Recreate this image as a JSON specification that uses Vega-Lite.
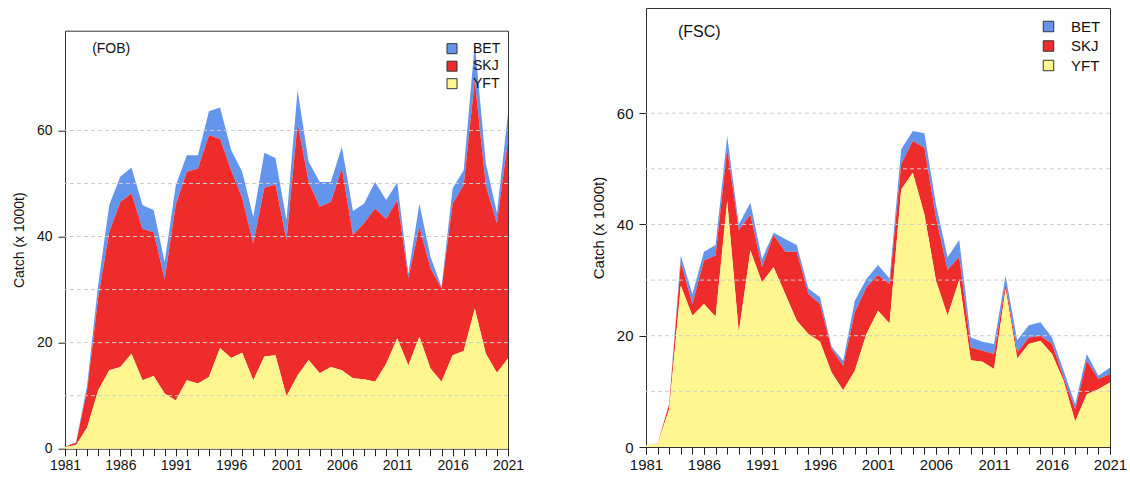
{
  "$schema": "https://vega.github.io/schema/vega-lite/v6.json",
  "padding": {"left": 11, "top": 7, "right": 2, "bottom": 2},
  "background": "white",
  "config": {
    "view": {"stroke": "#333333", "strokeWidth": 1},
    "font": "Liberation Sans",
    "axis": {"labelColor": "#111111", "titleColor": "#111111", "tickColor": "#222222", "domain": false, "grid": false, "labelFont": "Liberation Sans", "titleFont": "Liberation Sans", "titleFontWeight": "normal"},
    "legend": {"labelFont": "Liberation Sans", "labelColor": "#111111"}
  },
  "data": {"values": [
    {"set":"FOB","year":1981,"YFT":0.3,"SKJ":0.1,"BET":0.0},
    {"set":"FOB","year":1982,"YFT":0.7,"SKJ":0.4,"BET":0.1},
    {"set":"FOB","year":1983,"YFT":4.0,"SKJ":7.0,"BET":1.0},
    {"set":"FOB","year":1984,"YFT":11.0,"SKJ":17.5,"BET":2.5},
    {"set":"FOB","year":1985,"YFT":14.8,"SKJ":26.1,"BET":5.1},
    {"set":"FOB","year":1986,"YFT":15.4,"SKJ":31.1,"BET":4.8},
    {"set":"FOB","year":1987,"YFT":17.9,"SKJ":30.2,"BET":4.9},
    {"set":"FOB","year":1988,"YFT":12.9,"SKJ":28.5,"BET":4.5},
    {"set":"FOB","year":1989,"YFT":13.7,"SKJ":27.1,"BET":4.2},
    {"set":"FOB","year":1990,"YFT":10.4,"SKJ":21.5,"BET":3.3},
    {"set":"FOB","year":1991,"YFT":9.1,"SKJ":36.9,"BET":3.6},
    {"set":"FOB","year":1992,"YFT":12.9,"SKJ":39.3,"BET":3.1},
    {"set":"FOB","year":1993,"YFT":12.3,"SKJ":40.5,"BET":2.5},
    {"set":"FOB","year":1994,"YFT":13.5,"SKJ":45.6,"BET":4.5},
    {"set":"FOB","year":1995,"YFT":19.0,"SKJ":39.4,"BET":5.9},
    {"set":"FOB","year":1996,"YFT":17.1,"SKJ":35.4,"BET":3.8},
    {"set":"FOB","year":1997,"YFT":18.1,"SKJ":29.1,"BET":5.0},
    {"set":"FOB","year":1998,"YFT":12.9,"SKJ":25.8,"BET":5.0},
    {"set":"FOB","year":1999,"YFT":17.4,"SKJ":31.8,"BET":6.6},
    {"set":"FOB","year":2000,"YFT":17.6,"SKJ":32.2,"BET":5.0},
    {"set":"FOB","year":2001,"YFT":9.9,"SKJ":29.4,"BET":3.8},
    {"set":"FOB","year":2002,"YFT":13.8,"SKJ":47.5,"BET":6.3},
    {"set":"FOB","year":2003,"YFT":16.7,"SKJ":33.6,"BET":3.8},
    {"set":"FOB","year":2004,"YFT":14.2,"SKJ":31.4,"BET":4.7},
    {"set":"FOB","year":2005,"YFT":15.4,"SKJ":31.1,"BET":3.8},
    {"set":"FOB","year":2006,"YFT":14.8,"SKJ":38.0,"BET":4.1},
    {"set":"FOB","year":2007,"YFT":13.3,"SKJ":27.0,"BET":4.5},
    {"set":"FOB","year":2008,"YFT":13.1,"SKJ":29.4,"BET":3.7},
    {"set":"FOB","year":2009,"YFT":12.6,"SKJ":32.7,"BET":5.0},
    {"set":"FOB","year":2010,"YFT":16.0,"SKJ":27.3,"BET":3.6},
    {"set":"FOB","year":2011,"YFT":20.8,"SKJ":26.1,"BET":3.3},
    {"set":"FOB","year":2012,"YFT":15.7,"SKJ":16.5,"BET":0.8},
    {"set":"FOB","year":2013,"YFT":21.1,"SKJ":20.7,"BET":4.4},
    {"set":"FOB","year":2014,"YFT":15.1,"SKJ":18.9,"BET":2.2},
    {"set":"FOB","year":2015,"YFT":12.6,"SKJ":17.6,"BET":0.3},
    {"set":"FOB","year":2016,"YFT":17.6,"SKJ":28.6,"BET":2.9},
    {"set":"FOB","year":2017,"YFT":18.4,"SKJ":31.3,"BET":2.8},
    {"set":"FOB","year":2018,"YFT":26.4,"SKJ":43.1,"BET":7.0},
    {"set":"FOB","year":2019,"YFT":17.9,"SKJ":31.6,"BET":4.3},
    {"set":"FOB","year":2020,"YFT":14.3,"SKJ":28.2,"BET":2.0},
    {"set":"FOB","year":2021,"YFT":17.0,"SKJ":41.2,"BET":5.0},
    {"set":"FSC","year":1981,"YFT":0.3,"SKJ":0.0,"BET":0.0},
    {"set":"FSC","year":1982,"YFT":0.6,"SKJ":0.05,"BET":0.0},
    {"set":"FSC","year":1983,"YFT":6.8,"SKJ":0.9,"BET":0.1},
    {"set":"FSC","year":1984,"YFT":29.0,"SKJ":4.2,"BET":1.2},
    {"set":"FSC","year":1985,"YFT":23.6,"SKJ":2.1,"BET":1.8},
    {"set":"FSC","year":1986,"YFT":25.7,"SKJ":7.8,"BET":1.6},
    {"set":"FSC","year":1987,"YFT":23.4,"SKJ":11.0,"BET":1.9},
    {"set":"FSC","year":1988,"YFT":44.2,"SKJ":9.3,"BET":2.4},
    {"set":"FSC","year":1989,"YFT":20.6,"SKJ":18.4,"BET":1.0},
    {"set":"FSC","year":1990,"YFT":35.3,"SKJ":6.5,"BET":2.1},
    {"set":"FSC","year":1991,"YFT":29.6,"SKJ":2.7,"BET":1.5},
    {"set":"FSC","year":1992,"YFT":32.3,"SKJ":5.8,"BET":0.4},
    {"set":"FSC","year":1993,"YFT":27.5,"SKJ":7.6,"BET":2.3},
    {"set":"FSC","year":1994,"YFT":22.7,"SKJ":12.4,"BET":1.2},
    {"set":"FSC","year":1995,"YFT":20.3,"SKJ":7.2,"BET":1.0},
    {"set":"FSC","year":1996,"YFT":18.9,"SKJ":6.8,"BET":1.2},
    {"set":"FSC","year":1997,"YFT":13.4,"SKJ":4.2,"BET":0.4},
    {"set":"FSC","year":1998,"YFT":10.2,"SKJ":4.4,"BET":0.9},
    {"set":"FSC","year":1999,"YFT":13.7,"SKJ":10.5,"BET":2.1},
    {"set":"FSC","year":2000,"YFT":20.3,"SKJ":8.4,"BET":1.5},
    {"set":"FSC","year":2001,"YFT":24.5,"SKJ":6.4,"BET":1.8},
    {"set":"FSC","year":2002,"YFT":22.2,"SKJ":7.1,"BET":1.0},
    {"set":"FSC","year":2003,"YFT":46.3,"SKJ":4.5,"BET":2.7},
    {"set":"FSC","year":2004,"YFT":49.3,"SKJ":5.7,"BET":1.8},
    {"set":"FSC","year":2005,"YFT":41.8,"SKJ":12.0,"BET":2.6},
    {"set":"FSC","year":2006,"YFT":29.9,"SKJ":11.3,"BET":2.4},
    {"set":"FSC","year":2007,"YFT":23.6,"SKJ":8.2,"BET":2.3},
    {"set":"FSC","year":2008,"YFT":30.0,"SKJ":4.2,"BET":3.0},
    {"set":"FSC","year":2009,"YFT":15.6,"SKJ":2.3,"BET":1.8},
    {"set":"FSC","year":2010,"YFT":15.3,"SKJ":2.0,"BET":1.6},
    {"set":"FSC","year":2011,"YFT":14.0,"SKJ":2.7,"BET":1.8},
    {"set":"FSC","year":2012,"YFT":28.4,"SKJ":0.9,"BET":1.5},
    {"set":"FSC","year":2013,"YFT":15.9,"SKJ":1.1,"BET":2.2},
    {"set":"FSC","year":2014,"YFT":18.5,"SKJ":1.2,"BET":2.2},
    {"set":"FSC","year":2015,"YFT":19.1,"SKJ":0.9,"BET":2.4},
    {"set":"FSC","year":2016,"YFT":16.7,"SKJ":1.8,"BET":1.2},
    {"set":"FSC","year":2017,"YFT":11.9,"SKJ":0.6,"BET":1.2},
    {"set":"FSC","year":2018,"YFT":4.6,"SKJ":2.2,"BET":0.9},
    {"set":"FSC","year":2019,"YFT":9.5,"SKJ":6.0,"BET":1.2},
    {"set":"FSC","year":2020,"YFT":10.4,"SKJ":1.8,"BET":0.6},
    {"set":"FSC","year":2021,"YFT":11.6,"SKJ":1.5,"BET":1.2}
  ]},
  "transform": [{"fold": ["BET", "SKJ", "YFT"], "as": ["species", "catch"]}],
  "spacing": 65,
  "resolve": {"legend": {"color": "independent"}, "scale": {"color": "independent"}},
  "hconcat": [
    {
      "spacing": 20.7,
      "resolve": {"legend": {"color": "independent"}, "scale": {"color": "independent"}},
      "vconcat": [
        {
          "width": 443,
          "height": 1,
          "view": {"stroke": null},
          "data": {"values": [{"label": ""}]},
          "mark": {"type": "point", "size": 0, "opacity": 0, "filled": true},
          "encoding": {}
        },
        {
          "width": 443,
          "height": 418,
          "transform": [{"filter": "datum.set === 'FOB'"}],
          "resolve": {"axis": {"x": "independent"}},
          "layer": [
            {
              "mark": {"type": "area", "opacity": 1, "interpolate": "linear"},
              "encoding": {
                "x": {"field": "year", "type": "quantitative", "scale": {"domain": [1981, 2021], "nice": false, "zero": false},
                  "axis": {"title": null, "orient": "bottom", "values": [1981,1982,1983,1984,1985,1986,1987,1988,1989,1990,1991,1992,1993,1994,1995,1996,1997,1998,1999,2000,2001,2002,2003,2004,2005,2006,2007,2008,2009,2010,2011,2012,2013,2014,2015,2016,2017,2018,2019,2020,2021],
                    "labels": false, "tickSize": 7}},
                "y": {"field": "catch", "type": "quantitative", "stack": "zero", "scale": {"domain": [0, 78.8], "nice": false},
                  "axis": {"title": "Catch (x 1000t)", "values": [0, 20, 40, 60], "tickSize": 7, "labelFontSize": 14, "labelPadding": 6, "titleFontSize": 14, "titlePadding": 10}},
                "color": {"field": "species", "type": "nominal",
                  "scale": {"domain": ["BET", "SKJ", "YFT"], "range": ["#6495ED", "#EE2C2C", "#FFF68F"]},
                  "legend": {"orient": "top-right", "title": " ", "titleFontSize": 1, "titlePadding": 3, "offset": 7, "symbolType": "square", "symbolSize": 100, "symbolStrokeColor": "#333333", "symbolStrokeWidth": 1, "symbolOpacity": 1, "labelFontSize": 14, "labelOffset": 14, "rowPadding": 3.5}},
                "order": {"field": "species", "sort": "descending"}
              }
            },
            {
              "data": {"values": [{"g": 10}, {"g": 20}, {"g": 30}, {"g": 40}, {"g": 50}, {"g": 60}]},
              "mark": {"type": "rule", "strokeDash": [4, 3], "color": "#cccccc", "strokeWidth": 1},
              "encoding": {"y": {"field": "g", "type": "quantitative"}}
            },
            {
              "data": {"values": [{"label": "(FOB)"}]},
              "mark": {"type": "text", "align": "left", "baseline": "middle", "fontSize": 14, "color": "#111111"},
              "encoding": {
                "x": {"datum": 1983.45, "type": "quantitative",
                  "axis": {"title": null, "orient": "bottom", "values": [1981, 1986, 1991, 1996, 2001, 2006, 2011, 2016, 2021], "format": "d", "tickSize": 7, "labelFontSize": 14, "labelPadding": 3, "labelFlush": false, "labelOverlap": false}},
                "y": {"datum": 75.3},
                "text": {"field": "label"}
              }
            }
          ]
        }
      ]
    },
    {
      "width": 464,
      "height": 439,
      "transform": [{"filter": "datum.set === 'FSC'"}],
      "resolve": {"axis": {"x": "independent"}},
      "layer": [
        {
          "mark": {"type": "area", "opacity": 1, "interpolate": "linear"},
          "encoding": {
            "x": {"field": "year", "type": "quantitative", "scale": {"domain": [1981, 2021], "nice": false, "zero": false},
              "axis": {"title": null, "orient": "bottom", "values": [1981,1982,1983,1984,1985,1986,1987,1988,1989,1990,1991,1992,1993,1994,1995,1996,1997,1998,1999,2000,2001,2002,2003,2004,2005,2006,2007,2008,2009,2010,2011,2012,2013,2014,2015,2016,2017,2018,2019,2020,2021],
                "labels": false, "tickSize": 7}},
            "y": {"field": "catch", "type": "quantitative", "stack": "zero", "scale": {"domain": [0, 78.9], "nice": false},
              "axis": {"title": "Catch (x 1000t)", "values": [0, 20, 40, 60], "tickSize": 7, "labelFontSize": 15, "labelPadding": 6, "titleFontSize": 15, "titlePadding": 10}},
            "color": {"field": "species", "type": "nominal",
              "scale": {"domain": ["BET", "SKJ", "YFT"], "range": ["#6495ED", "#EE2C2C", "#FFF68F"]},
              "legend": {"orient": "top-right", "title": " ", "titleFontSize": 1, "titlePadding": 1, "offset": 9, "symbolType": "square", "symbolSize": 110, "symbolStrokeColor": "#333333", "symbolStrokeWidth": 1, "symbolOpacity": 1, "labelFontSize": 15, "labelOffset": 15, "rowPadding": 3.5}},
            "order": {"field": "species", "sort": "descending"}
          }
        },
        {
          "data": {"values": [{"g": 10}, {"g": 20}, {"g": 30}, {"g": 40}, {"g": 50}, {"g": 60}]},
          "mark": {"type": "rule", "strokeDash": [4, 3], "color": "#cccccc", "strokeWidth": 1},
          "encoding": {"y": {"field": "g", "type": "quantitative"}}
        },
        {
          "data": {"values": [{"label": "(FSC)"}]},
          "mark": {"type": "text", "align": "left", "baseline": "middle", "fontSize": 16, "color": "#111111"},
          "encoding": {
            "x": {"datum": 1983.75, "type": "quantitative",
              "axis": {"title": null, "orient": "bottom", "values": [1981, 1986, 1991, 1996, 2001, 2006, 2011, 2016, 2021], "format": "d", "tickSize": 7, "labelFontSize": 15, "labelPadding": 3, "labelFlush": false, "labelOverlap": false}},
            "y": {"datum": 74.6},
            "text": {"field": "label"}
          }
        }
      ]
    }
  ]
}
